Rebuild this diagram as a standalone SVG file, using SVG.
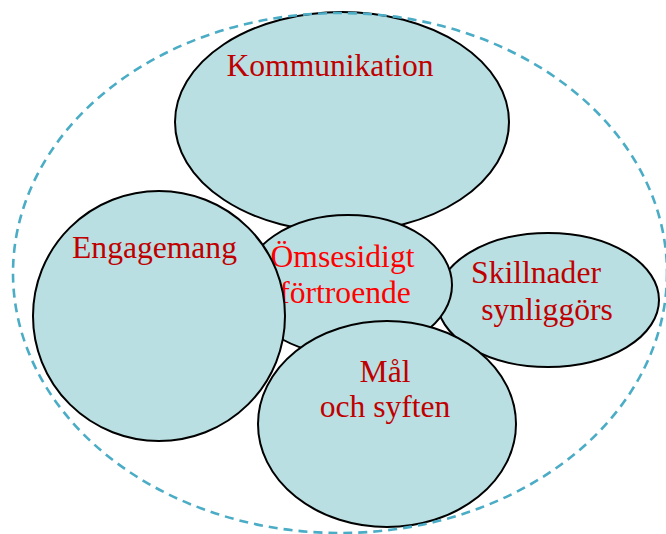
<svg xmlns="http://www.w3.org/2000/svg" width="666" height="534" viewBox="0 0 666 534">
<style>
.n{fill:#B9DFE2;stroke:#000;stroke-width:2}
.t{font-family:"Liberation Serif","Times New Roman",serif;font-size:31.6px;text-anchor:middle;fill:#C00000}
.r{fill:#FF0000}
.d{fill:none;stroke:#4BACC6;stroke-width:2.6;stroke-dasharray:9 6}
</style>
<rect width="666" height="534" fill="#fff"/>
<g id="kommunikation"><ellipse class="n" cx="342" cy="122" rx="167" ry="110"/><text class="t" x="330" y="76">Kommunikation</text></g>
<g id="skillnader"><ellipse class="n" cx="548" cy="300" rx="111" ry="67"/><text class="t" x="536" y="283">Skillnader</text><text class="t" x="547" y="320">synliggörs</text></g>
<g id="omsesidigt"><ellipse class="n" cx="348" cy="285" rx="104" ry="70"/><text class="t r" x="342.5" y="267">Ömsesidigt</text><text class="t r" x="345" y="303">förtroende</text></g>
<g id="engagemang"><ellipse class="n" cx="159" cy="316" rx="126" ry="125"/><text class="t" x="154.5" y="258">Engagemang</text></g>
<g id="mal"><ellipse class="n" cx="387" cy="424" rx="129" ry="103"/><text class="t" x="385" y="382">Mål</text><text class="t" x="385" y="417">och syften</text></g>
<g id="connectors"><ellipse class="d" cx="340" cy="273" rx="327" ry="260"/></g>
</svg>
